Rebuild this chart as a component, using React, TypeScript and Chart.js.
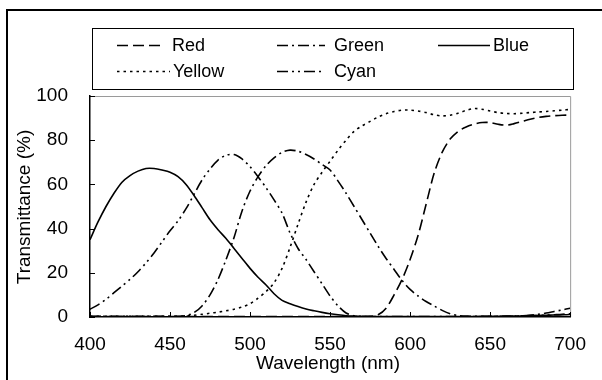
import React, { useEffect, useRef } from "react";
import { Chart, registerables } from "chart.js";

Chart.register(...registerables);

const wavelengths = [
  400, 405, 410, 415, 420, 425, 430, 435, 440, 445, 450, 455, 460, 465, 470, 475, 480, 485, 490, 495,
  500, 505, 510, 515, 520, 525, 530, 535, 540, 545, 550, 555, 560, 565, 570, 575, 580, 585, 590, 595,
  600, 605, 610, 615, 620, 625, 630, 635, 640, 645, 650, 655, 660, 665, 670, 675, 680, 685, 690, 695, 700,
];

const red = [
  0.2, 0.2, 0.2, 0.2, 0.2, 0.2, 0.2, 0.2, 0.2, 0.2, 0.2, 0.2, 0.2, 0.2, 0.2, 0.2, 0.2, 0.2, 0.2, 0.2,
  0.2, 0.2, 0.2, 0.2, 0.2, 0.2, 0.2, 0.2, 0.2, 0.2, 0.2, 0.2, 0.2, 0.2, 0.2, 0.3, 1, 4, 10, 17,
  26, 37, 51, 65, 74.5, 80.5, 84, 86, 87.3, 88, 88, 87.2, 86.8, 87.5, 88.5, 89.5, 90.3, 90.8, 91.1, 91.3, 91.4,
];

const green = [
  0.3, 0.3, 0.3, 0.3, 0.3, 0.3, 0.3, 0.3, 0.3, 0.3, 0.3, 0.3, 0.6, 2, 5, 10, 17, 26, 36, 48,
  57, 63.5, 68.5, 72, 74.5, 75.5, 75, 73.5, 71.5, 69, 66.5, 61.5, 56, 50, 44, 38, 32, 26.5, 21.5, 16.5,
  12.5, 9.5, 7, 5, 3, 1.5, 0.7, 0.4, 0.3, 0.3, 0.3, 0.3, 0.3, 0.3, 0.5, 0.8, 1.2, 1.8, 2.5, 3.2, 4,
];

const blue = [
  35, 43, 50, 56, 61, 64, 66, 67.2, 67.2, 66.5, 65.5, 63.5, 60, 55, 49.5, 44, 39.5, 35.5, 31, 26.5,
  22, 18, 14.5, 10.5, 7.5, 6, 4.7, 3.6, 2.8, 2.1, 1.5, 1, 0.6, 0.4, 0.3, 0.2, 0.2, 0.2, 0.2, 0.2,
  0.2, 0.2, 0.2, 0.2, 0.2, 0.2, 0.2, 0.2, 0.2, 0.3, 0.3, 0.3, 0.4, 0.4, 0.5, 0.6, 0.7, 0.8, 0.9, 1, 1.1,
];

const yellow = [
  0.3, 0.3, 0.3, 0.3, 0.3, 0.3, 0.3, 0.3, 0.3, 0.3, 0.3, 0.3, 0.5, 0.8, 1.2, 1.7, 2.2, 2.8, 3.5, 4.5,
  6, 8.5, 11.5, 15.5, 22, 31.5, 42, 52, 60, 65.5, 70.5, 75.5, 80, 84, 86.5, 88.5, 90.5, 92, 93, 93.6,
  93.6, 93.2, 92.5, 91.5, 91, 91.3, 92.2, 93.5, 94.3, 94, 93.2, 92.5, 92.1, 92, 92.2, 92.5, 92.8, 93, 93.3, 93.6, 93.9,
];

const cyan = [
  3.5, 5.5, 8, 11, 14, 17, 20.5, 24.5, 29, 34, 39, 43.5, 49, 55.5, 62, 67, 71, 73.2, 73.5, 71.5,
  68, 63.5, 58.5, 53, 47, 38, 31, 26, 20.5, 15, 9.5, 5, 1.8, 0.6, 0.3, 0.2, 0.2, 0.2, 0.2, 0.2,
  0.2, 0.2, 0.2, 0.2, 0.2, 0.2, 0.2, 0.2, 0.2, 0.2, 0.2, 0.3, 0.3, 0.4, 0.5, 0.6, 0.7, 0.8, 1, 1.2, 1.5,
];

const xTicks = [400, 450, 500, 550, 600, 650, 700];
const yTicks = [0, 20, 40, 60, 80, 100];

const seriesNames = ["Red", "Green", "Blue", "Yellow", "Cyan"];
const seriesValues = [red, green, blue, yellow, cyan];
const seriesDashes = [[11, 5], [11, 4, 2, 4], [], [2.5, 4], [11, 4, 2, 4, 2, 4]];

const FONT = "'Liberation Sans', Arial, sans-serif";

const decorPlugin = {
  id: "decor",
  afterDraw(chart: any) {
    const ctx = chart.ctx;
    const area = chart.chartArea;
    const xs = chart.scales.x;
    const ys = chart.scales.y;
    ctx.save();

    // plot border top / right (gray)
    ctx.strokeStyle = "#9a9a9a";
    ctx.lineWidth = 1;
    ctx.setLineDash([]);
    ctx.beginPath();
    ctx.moveTo(area.left, area.top + 0.5);
    ctx.lineTo(area.right + 0.5, area.top + 0.5);
    ctx.lineTo(area.right + 0.5, area.bottom);
    ctx.stroke();

    // inner tick marks
    ctx.strokeStyle = "#000";
    ctx.lineWidth = 1;
    ctx.beginPath();
    for (const t of xTicks) {
      const px = Math.round(xs.getPixelForValue(t)) + 0.5;
      ctx.moveTo(px, area.bottom);
      ctx.lineTo(px, area.bottom - 5);
    }
    for (const t of yTicks) {
      const py = Math.round(ys.getPixelForValue(t)) + 0.5;
      ctx.moveTo(area.left, py);
      ctx.lineTo(area.left + 5, py);
    }
    ctx.stroke();

    // outer frame
    ctx.strokeStyle = "#000";
    ctx.lineWidth = 2;
    ctx.beginPath();
    ctx.moveTo(7, 400);
    ctx.lineTo(7, 10);
    ctx.lineTo(610, 10);
    ctx.stroke();

    // legend box
    ctx.lineWidth = 1;
    ctx.strokeStyle = "#000";
    ctx.strokeRect(92.5, 28.5, 481, 61);

    const items = [
      { x0: 117, x1: 162, tx: 172, y: 45 },
      { x0: 277, x1: 325, tx: 334, y: 45 },
      { x0: 438, x1: 490, tx: 493, y: 45 },
      { x0: 117, x1: 170, tx: 173, y: 71 },
      { x0: 277, x1: 325, tx: 334, y: 71 },
    ];
    ctx.font = `18px ${FONT}`;
    ctx.fillStyle = "#000";
    ctx.textBaseline = "middle";
    ctx.textAlign = "left";
    chart.data.datasets.forEach((ds: any, i: number) => {
      const it = items[i];
      ctx.lineWidth = 1.6;
      ctx.setLineDash(ds.borderDash || []);
      ctx.beginPath();
      ctx.moveTo(it.x0, it.y + 0.5);
      ctx.lineTo(it.x1, it.y + 0.5);
      ctx.stroke();
      ctx.setLineDash([]);
      ctx.fillText(ds.label, it.tx, it.y + 1);
    });

    // axis titles
    ctx.font = `19px ${FONT}`;
    ctx.textAlign = "center";
    ctx.textBaseline = "middle";
    ctx.fillText("Wavelength (nm)", 328, 364);
    ctx.save();
    ctx.translate(25, 207);
    ctx.rotate(-Math.PI / 2);
    ctx.fillText("Transmittance (%)", 0, 0);
    ctx.restore();

    ctx.restore();
  },
};

export default function App() {
  const ref = useRef<HTMLCanvasElement | null>(null);

  useEffect(() => {
    if (!ref.current) return;
    const datasets = seriesNames.map((name, i) => ({
      label: name,
      data: wavelengths.map((w, j) => ({ x: w, y: seriesValues[i][j] })),
      borderColor: "#000",
      backgroundColor: "#000",
      borderWidth: 1.6,
      borderDash: seriesDashes[i],
      pointRadius: 0,
      tension: 0.3,
      fill: false,
    }));

    const chart = new Chart(ref.current, {
      type: "line",
      data: { datasets },
      options: {
        animation: false,
        responsive: false,
        maintainAspectRatio: false,
        devicePixelRatio: 1,
        layout: { padding: { top: 96, right: 29, left: 0, bottom: 0 } },
        plugins: {
          legend: { display: false },
          tooltip: { enabled: false },
          title: { display: false },
        },
        scales: {
          x: {
            type: "linear",
            min: 400,
            max: 700,
            afterFit: (s: any) => {
              s.height = 63;
            },
            afterBuildTicks: (s: any) => {
              s.ticks = xTicks.map((v) => ({ value: v }));
            },
            grid: { display: false, drawTicks: false },
            border: { display: true, color: "#000", width: 1.5 },
            ticks: {
              padding: 16,
              color: "#000",
              font: { family: FONT, size: 19 },
              maxRotation: 0,
              autoSkip: false,
            },
          },
          y: {
            type: "linear",
            min: 0,
            max: 100,
            afterFit: (s: any) => {
              s.width = 90;
            },
            afterBuildTicks: (s: any) => {
              s.ticks = yTicks.map((v) => ({ value: v }));
            },
            grid: { display: false, drawTicks: false },
            border: { display: true, color: "#000", width: 1.5 },
            ticks: {
              padding: 22,
              color: "#000",
              font: { family: FONT, size: 19 },
              autoSkip: false,
            },
          },
        },
      },
      plugins: [decorPlugin],
    });
    return () => chart.destroy();
  }, []);

  return (
    <div style={{ position: "absolute", left: 0, top: 0, width: 602, height: 380, background: "#fff" }}>
      <canvas ref={ref} width={602} height={380} style={{ width: 602, height: 380, display: "block" }} />
    </div>
  );
}
